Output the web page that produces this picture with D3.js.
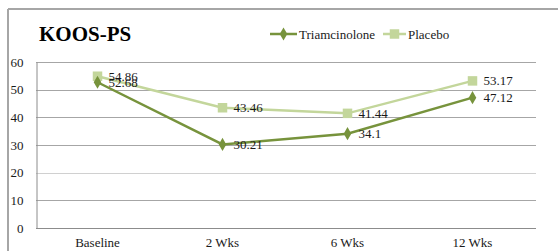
<!DOCTYPE html>
<html>
<head>
<meta charset="utf-8">
<script src="https://cdn.jsdelivr.net/npm/d3@7"></script>
<style>
  body { margin: 0; background: #fff; }
  svg { display: block; font-family: "Liberation Serif", serif; }
</style>
</head>
<body>
<div class="chart"></div>
<script>
var categories = ["Baseline", "2 Wks", "6 Wks", "12 Wks"];
var triamcinolone = [52.68, 30.21, 34.1, 47.12];
var placebo = [54.86, 43.46, 41.44, 53.17];
var yTicks = [0, 10, 20, 30, 40, 50, 60];

var width = 559;
var height = 251;
var plot = { left: 36, right: 536, top: 62, bottom: 228 };

var xScale = d3
  .scaleBand()
  .domain(categories)
  .range([plot.left - 1, plot.right - 1]);
var yScale = d3.scaleLinear().domain([0, 60]).range([plot.bottom, plot.top]);

var svg = d3
  .select(".chart")
  .append("svg")
  .attr("width", width)
  .attr("height", height);

// outer frame (only top and left edges show)
svg.append("line")
  .attr("x1", 8).attr("x2", 558).attr("y1", 9).attr("y2", 9)
  .attr("stroke", "#a6a6a6").attr("stroke-width", 2);
svg.append("line")
  .attr("x1", 8).attr("x2", 8).attr("y1", 9).attr("y2", height)
  .attr("stroke", "#a6a6a6").attr("stroke-width", 2);

// gridlines
svg.selectAll(".grid")
  .data(yTicks.filter(function(d) { return d > 0; }))
  .enter()
  .append("line")
  .attr("x1", plot.left)
  .attr("x2", plot.right)
  .attr("y1", function(d) { return Math.round(yScale(d)) + 0.5; })
  .attr("y2", function(d) { return Math.round(yScale(d)) + 0.5; })
  .attr("stroke", function(d) { return d === 20 ? "#d0d0d0" : "#a6a6a6"; })
  .attr("stroke-width", 1);

// y axis
var yAxis = d3.axisLeft(yScale).tickValues(yTicks).tickSize(0).tickPadding(13);
var yG = svg.append("g")
  .attr("transform", "translate(" + (plot.left + 0.5) + ",0)")
  .call(yAxis);
yG.select(".domain").attr("stroke", "#8c8c8c");
yG.selectAll("text")
  .attr("font-family", "Liberation Serif")
  .attr("font-size", 13)
  .attr("fill", "#1a1a1a");

// x axis
var xAxis = d3.axisBottom(xScale).tickSize(0).tickPadding(9);
var xG = svg.append("g")
  .attr("transform", "translate(0," + (Math.round(plot.bottom) + 0.5) + ")")
  .call(xAxis);
xG.select(".domain").attr("stroke", "#8c8c8c").attr("d", "M" + plot.left + ",0H" + plot.right);
xG.selectAll("text")
  .attr("font-family", "Liberation Serif")
  .attr("font-size", 13)
  .attr("fill", "#1a1a1a");

var cx = function(d, i) { return xScale(categories[i]) + xScale.bandwidth() / 2; };
var line = d3.line()
  .x(function(d, i) { return cx(d, i); })
  .y(function(d) { return yScale(d); });

var series = [
  { name: "Triamcinolone", values: triamcinolone, color: "#77933c", shape: d3.symbolDiamond, size: 50 },
  { name: "Placebo", values: placebo, color: "#c3d69b", shape: d3.symbolSquare, size: 90 }
];

// draw placebo first so triamcinolone lies on top
series.slice().reverse().forEach(function(s) {
  svg.append("path")
    .datum(s.values)
    .attr("fill", "none")
    .attr("stroke", s.color)
    .attr("stroke-width", 2.5)
    .attr("d", line);

  svg.selectAll(".pt-" + s.name)
    .data(s.values)
    .enter()
    .append("path")
    .attr("d", d3.symbol().type(s.shape).size(s.size))
    .attr("transform", function(d, i) {
      return "translate(" + cx(d, i) + "," + yScale(d) + ")";
    })
    .attr("fill", s.color);

  svg.selectAll(".lbl-" + s.name)
    .data(s.values)
    .enter()
    .append("text")
    .attr("x", function(d, i) { return cx(d, i) + 11; })
    .attr("y", function(d) { return yScale(d); })
    .attr("dy", "0.35em")
    .attr("font-size", 13)
    .attr("fill", "#1a1a1a")
    .text(function(d) { return d; });
});

// title
svg.append("text")
  .attr("x", 39)
  .attr("y", 41)
  .attr("font-size", 21)
  .attr("font-weight", "bold")
  .attr("fill", "#000")
  .text("KOOS-PS");

// legend
var legendItems = [
  { s: series[0], x: 270, tx: 299 },
  { s: series[1], x: 383, tx: 408 }
];
legendItems.forEach(function(l) {
  var w = l.tx - l.x - 2;
  svg.append("line")
    .attr("x1", l.x).attr("x2", l.x + w)
    .attr("y1", 34).attr("y2", 34)
    .attr("stroke", l.s.color).attr("stroke-width", 2.5);
  svg.append("path")
    .attr("d", d3.symbol().type(l.s.shape).size(l.s.size))
    .attr("transform", "translate(" + (l.x + w / 2) + ",34)")
    .attr("fill", l.s.color);
  svg.append("text")
    .attr("x", l.tx)
    .attr("y", 34)
    .attr("dy", "0.35em")
    .attr("font-size", 13)
    .attr("fill", "#1a1a1a")
    .text(l.s.name);
});
</script>
</body>
</html>
